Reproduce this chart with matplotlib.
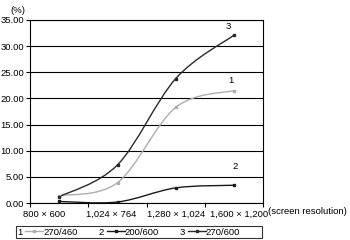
import matplotlib
matplotlib.use("Agg")
from matplotlib import pyplot as plt
from matplotlib.path import Path
from matplotlib.patches import PathPatch
from matplotlib.lines import Line2D
import numpy as np

plt.rcParams['font.family'] = ['Liberation Sans', 'DejaVu Sans']
plt.rcParams['font.size'] = 6.8

resolutions = ["800 \u00d7 600", "1,024 \u00d7 764", "1,280 \u00d7 1,024", "1,600 \u00d7 1,200"]
series_names = ["270/460", "200/600", "270/600"]
series_ids = ["1", "2", "3"]
s1 = [1.4, 3.9, 18.3, 21.5]
s2 = [0.3, 0.2, 2.9, 3.4]
s3 = [1.2, 7.3, 23.8, 32.1]
y_ticks = [0, 5, 10, 15, 20, 25, 30, 35]

colors = ["#adadad", "#1a1a1a", "#2a2a2a"]
label_offsets = [(-2, 4), (1, 10), (-4, 3)]


def smooth_path(xs, ys):
    # excel-like smoothed line: cubic bezier through each point
    pts = np.column_stack([xs, ys]).astype(float)
    n = len(pts)
    verts = [pts[0]]
    codes = [Path.MOVETO]
    for i in range(n - 1):
        p0 = pts[max(i - 1, 0)]
        p1 = pts[i]
        p2 = pts[i + 1]
        p3 = pts[min(i + 2, n - 1)]
        c1 = p1 + (p2 - p0) / 6.0
        c2 = p2 - (p3 - p1) / 6.0
        verts += [c1, c2, p2]
        codes += [Path.CURVE4] * 3
    return Path(verts, codes)


fig = plt.figure(figsize=(3.5, 2.4), dpi=100)
ax = fig.add_axes([0.086, 0.154, 0.666, 0.763])

x = np.arange(len(resolutions))
handles = []
for vals, col in zip([s1, s2, s3], colors):
    ax.add_patch(PathPatch(smooth_path(x, vals), facecolor="none", edgecolor=col, lw=1.0))
    ax.plot(x, vals, ls="none", marker="s", ms=1.8, color=col)
    handles.append(Line2D([], [], color=col, lw=1.0, marker="s", ms=1.8))

for vals, lab, off in zip([s1, s2, s3], series_ids, label_offsets):
    ax.annotate(lab, (x[-1], vals[-1]), xytext=off, textcoords="offset points",
                ha="center", va="bottom")

ax.set_xlim(-0.5, len(resolutions) - 0.5)
ax.set_ylim(0, 35)
ax.set_yticks(y_ticks)
ax.set_yticklabels(["%.2f" % v for v in y_ticks])
# the category labels sit a bit spread out in the original
label_shift = np.array([-0.26, -0.1, 0.0, 0.09])
ax.set_xticks(x + label_shift)
ax.set_xticklabels(resolutions)
ax.set_xticks(np.arange(len(resolutions) + 1) - 0.5, minor=True)
ax.tick_params(axis="x", which="major", length=0, pad=5)
ax.tick_params(axis="x", which="minor", length=3, width=0.8, direction="out")
ax.tick_params(axis="y", length=3, width=0.8, pad=1.5)
ax.grid(axis="y", color="black", lw=0.8)
ax.set_axisbelow(True)
for sp in ax.spines.values():
    sp.set_linewidth(0.8)
    sp.set_color("black")

ax.text(-0.052, 1.025, "(%)", transform=ax.transAxes, ha="center", va="bottom")
fig.text(0.766, 0.117, "(screen resolution)", ha="left", va="center")

blank = Line2D([], [], color="none")
leg_h, leg_l = [], []
for h, sid, name in zip(handles, series_ids, series_names):
    leg_h += [h, blank]
    leg_l += [sid, name]
leg = fig.legend(leg_h, leg_l, loc="lower left", bbox_to_anchor=(0.045, 0.008), ncol=6,
                 markerfirst=False, frameon=True, fancybox=False, handlelength=1.9,
                 handletextpad=0.3, columnspacing=0.0, borderpad=0.15, borderaxespad=0)
leg.get_frame().set_edgecolor("black")
leg.get_frame().set_linewidth(0.8)

fig.savefig("out.png", dpi=100)
